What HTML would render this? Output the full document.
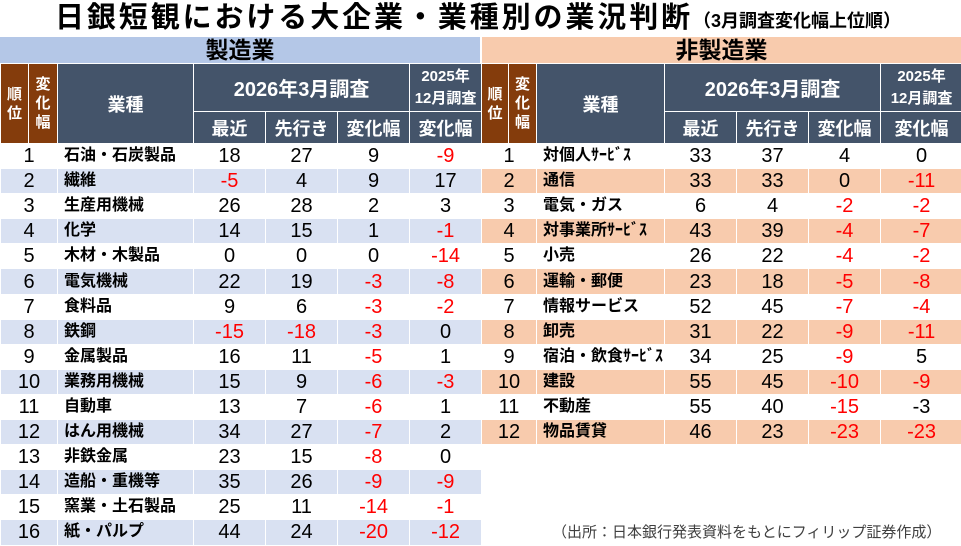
<!DOCTYPE html>
<html><head><meta charset="utf-8"><style>
*{margin:0;padding:0;box-sizing:border-box}
body{width:961px;height:546px;background:#fff;position:relative;overflow:hidden;font-family:"Liberation Sans","Noto Sans CJK JP",sans-serif;color:#000}
.title{position:absolute;left:55px;top:2px;font-size:29px;line-height:32px;font-weight:bold;white-space:nowrap;letter-spacing:2.9px}
.title span{font-size:18px;letter-spacing:0;font-weight:bold}
.sec{position:absolute;top:37px;height:26px;font-size:23px;font-weight:bold;text-align:center;line-height:26px}
table{position:absolute;top:63px;border-collapse:collapse;table-layout:fixed}
td{border:1px solid #fff;text-align:center;padding:0;white-space:nowrap;overflow:hidden}
.h{background:#44546A;color:#fff;font-size:18px;font-weight:bold}
.r{background:#843C0C;color:#fff;font-size:15px;font-weight:bold;line-height:19px}
tr.d td{height:25.1px;font-size:20px;line-height:22px}
tr.d td.n{text-align:left;padding-left:6px;font-size:16px;font-weight:bold}
.m{color:#ff0000}
.L tr.d:nth-child(2n+4) td{background:#D9E1F2}
.R tr.d:nth-child(2n+4) td{background:#F8CBAD}
.note{position:absolute;left:552px;top:521px;font-size:15px;color:#404040;white-space:nowrap}
</style></head><body>
<div class="title">日銀短観における大企業・業種別の業況判断<span>（3月調査変化幅上位順）</span></div>
<div class="sec" style="left:0;width:480px;background:#B4C7E7">製造業</div>
<div class="sec" style="left:482px;width:479px;background:#F8CBAD">非製造業</div>

<table class="L" style="left:0;width:481px">
<colgroup><col style="width:28px"><col style="width:29px"><col style="width:136px"><col style="width:72px"><col style="width:72px"><col style="width:72px"><col style="width:72px"></colgroup>
<tr style="height:48px"><td class="r" rowspan="2">順<br>位</td><td class="r" rowspan="2">変<br>化<br>幅</td><td class="h" rowspan="2">業種</td><td class="h" colspan="3" style="font-size:20px">2026年3月調査</td><td class="h" style="font-size:15px;line-height:22px">2025年<br>12月調査</td></tr>
<tr style="height:32px"><td class="h">最近</td><td class="h">先行き</td><td class="h">変化幅</td><td class="h">変化幅</td></tr>
<tr class="d"><td colspan="2">1</td><td class="n">石油・石炭製品</td><td>18</td><td>27</td><td>9</td><td class="m">-9</td></tr>
<tr class="d"><td colspan="2">2</td><td class="n">繊維</td><td class="m">-5</td><td>4</td><td>9</td><td>17</td></tr>
<tr class="d"><td colspan="2">3</td><td class="n">生産用機械</td><td>26</td><td>28</td><td>2</td><td>3</td></tr>
<tr class="d"><td colspan="2">4</td><td class="n">化学</td><td>14</td><td>15</td><td>1</td><td class="m">-1</td></tr>
<tr class="d"><td colspan="2">5</td><td class="n">木材・木製品</td><td>0</td><td>0</td><td>0</td><td class="m">-14</td></tr>
<tr class="d"><td colspan="2">6</td><td class="n">電気機械</td><td>22</td><td>19</td><td class="m">-3</td><td class="m">-8</td></tr>
<tr class="d"><td colspan="2">7</td><td class="n">食料品</td><td>9</td><td>6</td><td class="m">-3</td><td class="m">-2</td></tr>
<tr class="d"><td colspan="2">8</td><td class="n">鉄鋼</td><td class="m">-15</td><td class="m">-18</td><td class="m">-3</td><td>0</td></tr>
<tr class="d"><td colspan="2">9</td><td class="n">金属製品</td><td>16</td><td>11</td><td class="m">-5</td><td>1</td></tr>
<tr class="d"><td colspan="2">10</td><td class="n">業務用機械</td><td>15</td><td>9</td><td class="m">-6</td><td class="m">-3</td></tr>
<tr class="d"><td colspan="2">11</td><td class="n">自動車</td><td>13</td><td>7</td><td class="m">-6</td><td>1</td></tr>
<tr class="d"><td colspan="2">12</td><td class="n">はん用機械</td><td>34</td><td>27</td><td class="m">-7</td><td>2</td></tr>
<tr class="d"><td colspan="2">13</td><td class="n">非鉄金属</td><td>23</td><td>15</td><td class="m">-8</td><td>0</td></tr>
<tr class="d"><td colspan="2">14</td><td class="n">造船・重機等</td><td>35</td><td>26</td><td class="m">-9</td><td class="m">-9</td></tr>
<tr class="d"><td colspan="2">15</td><td class="n">窯業・土石製品</td><td>25</td><td>11</td><td class="m">-14</td><td class="m">-1</td></tr>
<tr class="d"><td colspan="2">16</td><td class="n">紙・パルプ</td><td>44</td><td>24</td><td class="m">-20</td><td class="m">-12</td></tr>
</table>

<table class="R" style="left:481px;width:481px">
<colgroup><col style="width:27px"><col style="width:28px"><col style="width:128px"><col style="width:72px"><col style="width:72px"><col style="width:72px"><col style="width:82px"></colgroup>
<tr style="height:48px"><td class="r" rowspan="2">順<br>位</td><td class="r" rowspan="2">変<br>化<br>幅</td><td class="h" rowspan="2">業種</td><td class="h" colspan="3" style="font-size:20px">2026年3月調査</td><td class="h" style="font-size:15px;line-height:22px">2025年<br>12月調査</td></tr>
<tr style="height:32px"><td class="h">最近</td><td class="h">先行き</td><td class="h">変化幅</td><td class="h">変化幅</td></tr>
<tr class="d"><td colspan="2">1</td><td class="n">対個人ｻｰﾋﾞｽ</td><td>33</td><td>37</td><td>4</td><td>0</td></tr>
<tr class="d"><td colspan="2">2</td><td class="n">通信</td><td>33</td><td>33</td><td>0</td><td class="m">-11</td></tr>
<tr class="d"><td colspan="2">3</td><td class="n">電気・ガス</td><td>6</td><td>4</td><td class="m">-2</td><td class="m">-2</td></tr>
<tr class="d"><td colspan="2">4</td><td class="n">対事業所ｻｰﾋﾞｽ</td><td>43</td><td>39</td><td class="m">-4</td><td class="m">-7</td></tr>
<tr class="d"><td colspan="2">5</td><td class="n">小売</td><td>26</td><td>22</td><td class="m">-4</td><td class="m">-2</td></tr>
<tr class="d"><td colspan="2">6</td><td class="n">運輸・郵便</td><td>23</td><td>18</td><td class="m">-5</td><td class="m">-8</td></tr>
<tr class="d"><td colspan="2">7</td><td class="n">情報サービス</td><td>52</td><td>45</td><td class="m">-7</td><td class="m">-4</td></tr>
<tr class="d"><td colspan="2">8</td><td class="n">卸売</td><td>31</td><td>22</td><td class="m">-9</td><td class="m">-11</td></tr>
<tr class="d"><td colspan="2">9</td><td class="n">宿泊・飲食ｻｰﾋﾞｽ</td><td>34</td><td>25</td><td class="m">-9</td><td>5</td></tr>
<tr class="d"><td colspan="2">10</td><td class="n">建設</td><td>55</td><td>45</td><td class="m">-10</td><td class="m">-9</td></tr>
<tr class="d"><td colspan="2">11</td><td class="n">不動産</td><td>55</td><td>40</td><td class="m">-15</td><td>-3</td></tr>
<tr class="d"><td colspan="2">12</td><td class="n">物品賃貸</td><td>46</td><td>23</td><td class="m">-23</td><td class="m">-23</td></tr>
</table>

<div class="note">（出所：日本銀行発表資料をもとにフィリップ証券作成）</div>
</body></html>
